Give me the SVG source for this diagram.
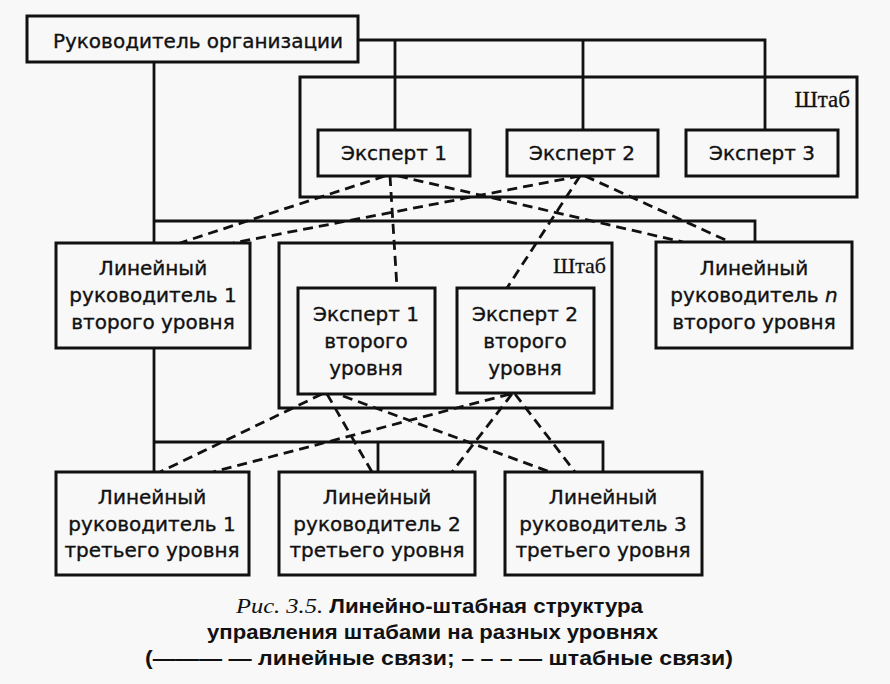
<svg xmlns="http://www.w3.org/2000/svg" width="890" height="684" viewBox="0 0 890 684">
<style>
.bg{fill:#f8f8f8}
.box{fill:#f8f8f8;stroke:#111;stroke-width:3}
.cont{fill:none;stroke:#111;stroke-width:3}
.ln{fill:none;stroke:#111;stroke-width:2.8}
.dl{fill:none;stroke:#111;stroke-width:2.8;stroke-dasharray:10 6}
.t{font-family:"DejaVu Sans","Liberation Sans",sans-serif;font-size:20px;fill:#111;stroke:#111;stroke-width:0.35;text-anchor:middle}
.st{font-family:"Liberation Serif",serif;font-size:23px;fill:#111;stroke:#111;stroke-width:0.3;text-anchor:end}
.cap{font-family:"Liberation Sans",sans-serif;font-size:20px;font-weight:bold;fill:#111}
.it{font-family:"Liberation Serif",serif;font-style:italic;font-weight:normal;font-size:22px}
</style>
<rect class="bg" x="0" y="0" width="890" height="684"/>
<g id="staff1">
<rect class="cont" x="300" y="77" width="557" height="120"/>
<text class="st" x="850" y="107">Штаб</text>
</g>
<g id="staff2">
<rect class="cont" x="279" y="243" width="333" height="165"/>
<text class="st" x="606" y="273" style="font-size:22px">Штаб</text>
</g>
<g id="connectors">
<path class="ln" d="M358 40H765V130M395 40V130M583 40V130"/>
<path class="ln" d="M154 62V472"/>
<path class="ln" d="M154 221H755V242"/>
<path class="ln" d="M154 442H603V472M378 442V472"/>
<path class="dl" d="M385 176L180 243M580 176L233 243M398 176L683 242M585 176L730 242M390 176L397 288M580 176L507 288"/>
<path class="dl" d="M322 394L160 472M327 394L372 472M343 396L550 472M510 394L213 472M512 394L452 472M515 394L575 472"/>
</g>
<g id="head">
<rect class="box" x="27" y="16" width="331" height="46"/>
<text class="t" x="198" y="48">Руководитель организации</text>
</g>
<g id="expert1">
<rect class="box" x="318" y="130" width="152" height="46"/>
<text class="t" x="394" y="160">Эксперт 1</text>
</g>
<g id="expert2">
<rect class="box" x="507" y="130" width="151" height="46"/>
<text class="t" x="582" y="160">Эксперт 2</text>
</g>
<g id="expert3">
<rect class="box" x="686" y="130" width="152" height="46"/>
<text class="t" x="762" y="160">Эксперт 3</text>
</g>
<g id="line2-1">
<rect class="box" x="56" y="243" width="194" height="105"/>
<text class="t" x="153" y="275">Линейный</text>
<text class="t" x="153" y="302">руководитель 1</text>
<text class="t" x="153" y="329">второго уровня</text>
</g>
<g id="expert2-1">
<rect class="box" x="298" y="288" width="137" height="106"/>
<text class="t" x="366" y="321">Эксперт 1</text>
<text class="t" x="366" y="348">второго</text>
<text class="t" x="366" y="375">уровня</text>
</g>
<g id="expert2-2">
<rect class="box" x="457" y="288" width="137" height="105"/>
<text class="t" x="525" y="321">Эксперт 2</text>
<text class="t" x="525" y="348">второго</text>
<text class="t" x="525" y="375">уровня</text>
</g>
<g id="line2-n">
<rect class="box" x="656" y="242" width="196" height="106"/>
<text class="t" x="754" y="275">Линейный</text>
<text class="t" x="754" y="302">руководитель <tspan font-style="italic">n</tspan></text>
<text class="t" x="754" y="329">второго уровня</text>
</g>
<g id="line3-1">
<rect class="box" x="56" y="472" width="193" height="103"/>
<text class="t" x="152" y="504">Линейный</text>
<text class="t" x="152" y="531">руководитель 1</text>
<text class="t" x="152" y="557">третьего уровня</text>
</g>
<g id="line3-2">
<rect class="box" x="279" y="472" width="196" height="103"/>
<text class="t" x="377" y="504">Линейный</text>
<text class="t" x="377" y="531">руководитель 2</text>
<text class="t" x="377" y="557">третьего уровня</text>
</g>
<g id="line3-3">
<rect class="box" x="505" y="472" width="197" height="103"/>
<text class="t" x="603" y="504">Линейный</text>
<text class="t" x="603" y="531">руководитель 3</text>
<text class="t" x="603" y="557">третьего уровня</text>
</g>
<g id="caption">
<text class="cap" x="236" y="613" textLength="407" lengthAdjust="spacingAndGlyphs"><tspan class="it">Рис. 3.5.</tspan> Линейно-штабная структура</text>
<text class="cap" x="207" y="639" textLength="451" lengthAdjust="spacingAndGlyphs">управления штабами на разных уровнях</text>
<text class="cap" x="145" y="665" textLength="588" lengthAdjust="spacingAndGlyphs">(——— — линейные связи; – – – — штабные связи)</text>
</g>
</svg>
